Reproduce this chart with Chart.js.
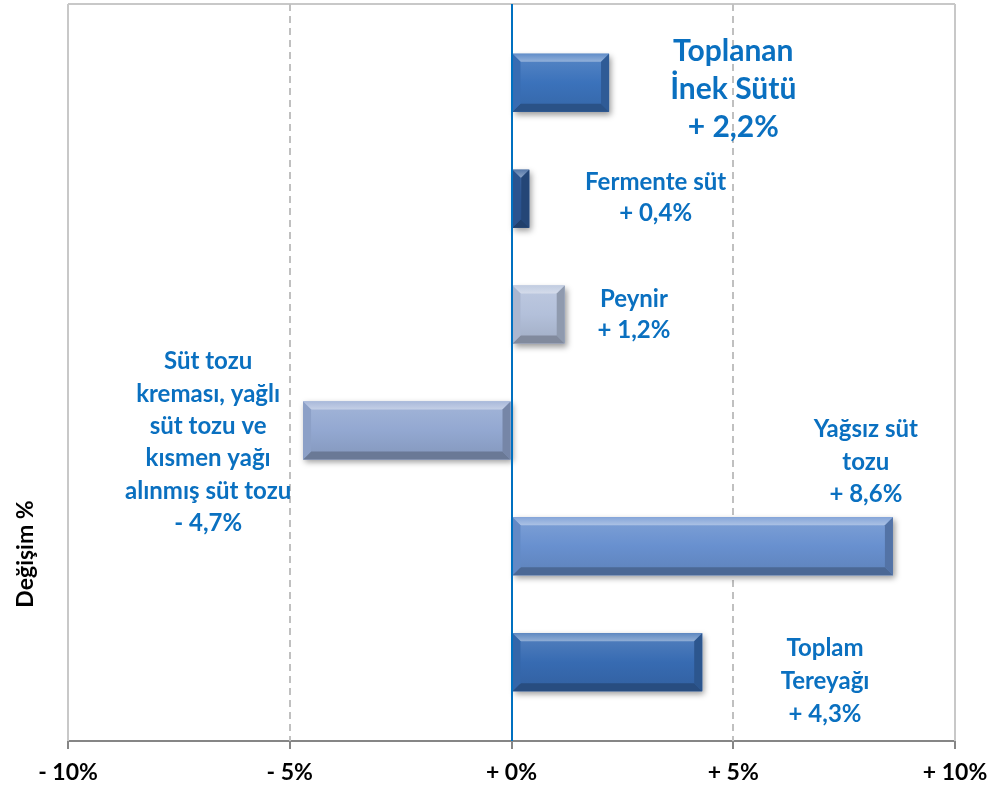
<!DOCTYPE html>
<html lang="tr">
<head>
<meta charset="UTF-8">
<title>Değişim %</title>
<script src="https://cdn.jsdelivr.net/npm/chart.js"></script>
<style>
    body { margin: 0; background: #fff; }
    #wrap { width: 990px; height: 790px; }
</style>
</head>
<body>
<div id="wrap"><canvas id="chart"></canvas></div>
<script>
// veriler
const categories = ['Toplanan İnek Sütü', 'Fermente süt', 'Peynir',
    'Süt tozu kreması, yağlı süt tozu ve kısmen yağı alınmış süt tozu',
    'Yağsız süt tozu', 'Toplam Tereyağı'];
const changes = [2.2, 0.4, 1.2, -4.7, 8.6, 4.3];
const labelLines = [
    ['Toplanan', 'İnek Sütü', '+ 2,2%'],
    ['Fermente süt', '+ 0,4%'],
    ['Peynir', '+ 1,2%'],
    ['Süt tozu', 'kreması, yağlı', 'süt tozu ve', 'kısmen yağı', 'alınmış süt tozu', '- 4,7%'],
    ['Yağsız süt', 'tozu', '+ 8,6%'],
    ['Toplam', 'Tereyağı', '+ 4,3%']
];
const xTicks = [-10, -5, 0, 5, 10];
const xTickLabels = ['- 10%', '- 5%', '+ 0%', '+ 5%', '+ 10%'];
const barColors = ['#3b72bb', '#2d5795', '#b3c0da', '#93a8d1', '#6890cf', '#376bb2'];

// opisy: srodek (w jednostkach osi), przesuniecie i rozmiar czcionki
const labelPos = [
    { x: 5.0, y: 0, size: 30, gap: 38, dy: -31 },
    { x: 3.25, y: 1, size: 24, gap: 31, dy: -16 },
    { x: 2.76, y: 2, size: 24, gap: 31, dy: -15 },
    { x: -6.84, y: 3, size: 24, gap: 32.4, dy: -69 },
    { x: 7.99, y: 4, size: 24, gap: 32.5, dy: -117 },
    { x: 7.07, y: 5, size: 24, gap: 33, dy: -14 }
];

const LABEL_BLUE = '#0a70c0';
const FONT = 'Lato, "Open Sans", sans-serif';

function mix(hex, t, target) {
    const n = parseInt(hex.slice(1), 16);
    const r = (n >> 16) & 255, g = (n >> 8) & 255, b = n & 255;
    const m = c => Math.round(c + (target - c) * t);
    return `rgb(${m(r)},${m(g)},${m(b)})`;
}

function barRect(bar) {
    const p = bar.getProps(['x', 'y', 'base', 'height'], true);
    return {
        l: Math.min(p.x, p.base), r: Math.max(p.x, p.base),
        t: p.y - p.height / 2, b: p.y + p.height / 2
    };
}

// siatka, ramka, cien, efekt wypuklosci
const gridPlugin = {
    id: 'grid',
    beforeDatasetsDraw(chart) {
        const { ctx, chartArea: a, scales } = chart;
        ctx.save();
        ctx.strokeStyle = '#c8c8c8';
        ctx.lineWidth = 2;
        ctx.beginPath();
        ctx.moveTo(a.left, a.top); ctx.lineTo(a.right, a.top);
        ctx.stroke();
        xTicks.forEach(v => {
            if (v === 0) return;
            const px = Math.round(scales.x.getPixelForValue(v));
            ctx.setLineDash(Math.abs(v) === 10 ? [] : [7, 5]);
            ctx.strokeStyle = Math.abs(v) === 10 ? '#c8c8c8' : '#c0c0c0';
            ctx.beginPath();
            ctx.moveTo(px, a.top); ctx.lineTo(px, a.bottom);
            ctx.stroke();
        });
        ctx.setLineDash([]);
        chart.getDatasetMeta(0).data.forEach(bar => {
            const q = barRect(bar);
            ctx.save();
            ctx.shadowColor = 'rgba(0,0,0,0.4)';
            ctx.shadowBlur = 6;
            ctx.shadowOffsetX = 2;
            ctx.shadowOffsetY = 3;
            ctx.fillStyle = '#fff';
            ctx.fillRect(q.l, q.t, q.r - q.l, q.b - q.t);
            ctx.restore();
        });
        ctx.restore();
    },
    afterDatasetsDraw(chart) {
        const { ctx, chartArea: a, scales } = chart;
        ctx.save();
        chart.getDatasetMeta(0).data.forEach((bar, i) => {
            const { l, r, t, b } = barRect(bar);
            const c = barColors[i];
            const g = ctx.createLinearGradient(0, t, 0, b);
            g.addColorStop(0, mix(c, 0.15, 255));
            g.addColorStop(0.5, c);
            g.addColorStop(1, mix(c, 0.1, 0));
            ctx.fillStyle = g;
            ctx.fillRect(l, t, r - l, b - t);
            const e = Math.min(8, (r - l) / 2);
            // gorna krawedz
            const gt = ctx.createLinearGradient(0, t, 0, t + e);
            gt.addColorStop(0, mix(c, 0.2, 255));
            gt.addColorStop(1, mix(c, 0.45, 255));
            ctx.fillStyle = gt;
            ctx.beginPath();
            ctx.moveTo(l, t); ctx.lineTo(r, t); ctx.lineTo(r - e, t + e); ctx.lineTo(l + e, t + e);
            ctx.closePath(); ctx.fill();
            // dolna krawedz
            ctx.fillStyle = mix(c, 0.28, 0);
            ctx.beginPath();
            ctx.moveTo(l, b); ctx.lineTo(r, b); ctx.lineTo(r - e, b - e); ctx.lineTo(l + e, b - e);
            ctx.closePath(); ctx.fill();
            // boki
            ctx.fillStyle = mix(c, 0.2, 0);
            ctx.beginPath();
            ctx.moveTo(r, t); ctx.lineTo(r, b); ctx.lineTo(r - e, b - e); ctx.lineTo(r - e, t + e);
            ctx.closePath(); ctx.fill();
            ctx.fillStyle = mix(c, 0.05, 0);
            ctx.beginPath();
            ctx.moveTo(l, t); ctx.lineTo(l, b); ctx.lineTo(l + e, b - e); ctx.lineTo(l + e, t + e);
            ctx.closePath(); ctx.fill();
        });
        // linia zera
        const zx = Math.round(scales.x.getPixelForValue(0));
        ctx.strokeStyle = '#0070c0';
        ctx.lineWidth = 2;
        ctx.beginPath();
        ctx.moveTo(zx, a.top); ctx.lineTo(zx, a.bottom);
        ctx.stroke();

        // opisy
        ctx.fillStyle = LABEL_BLUE;
        ctx.textAlign = 'center';
        ctx.textBaseline = 'middle';
        labelPos.forEach((lp, i) => {
            ctx.font = `bold ${lp.size}px ${FONT}`;
            const cx = scales.x.getPixelForValue(lp.x);
            const cy = scales.y.getPixelForValue(lp.y) + lp.dy;
            labelLines[i].forEach((line, k) => {
                ctx.fillText(line, cx, cy + k * lp.gap);
            });
        });

        // tytul osi y
        ctx.fillStyle = '#000';
        ctx.font = `bold 23px ${FONT}`;
        ctx.translate(26, 554);
        ctx.rotate(-Math.PI / 2);
        ctx.fillText('Değişim %', 0, 0);
        ctx.restore();
    }
};

new Chart(document.getElementById('chart'), {
    type: 'bar',
    data: {
        datasets: [{
            label: 'Değişim %',
            data: changes.map((v, i) => ({ x: v, y: i })),
            backgroundColor: barColors,
            borderWidth: 0,
            categoryPercentage: 1,
            barPercentage: 0.5
        }]
    },
    options: {
        indexAxis: 'y',
        responsive: true,
        maintainAspectRatio: false,
        animation: false,
        layout: { padding: { left: 68, right: 35, top: 4, bottom: 0 } },
        plugins: {
            legend: { display: false },
            tooltip: { enabled: false }
        },
        scales: {
            x: {
                type: 'linear',
                min: -10,
                max: 10,
                afterBuildTicks: s => { s.ticks = xTicks.map(v => ({ value: v })); },
                afterFit: s => {
                    s.height = 49;
                    s.paddingLeft = 0;
                    s.paddingRight = 0;
                },
                grid: {
                    drawOnChartArea: false,
                    tickLength: 8,
                    color: '#868686',
                    lineWidth: 2
                },
                border: { color: '#868686', width: 2 },
                ticks: {
                    color: '#000',
                    padding: 10,
                    maxRotation: 0,
                    font: { family: FONT, size: 23, weight: 'bold' },
                    callback: (v) => xTickLabels[xTicks.indexOf(v)]
                }
            },
            y: {
                type: 'linear',
                reverse: true,
                offset: false,
                min: -0.68,
                max: 5.68,
                afterBuildTicks: s => { s.ticks = categories.map((_, i) => ({ value: i })); },
                display: false
            }
        }
    },
    plugins: [gridPlugin]
});
</script>
</body>
</html>
